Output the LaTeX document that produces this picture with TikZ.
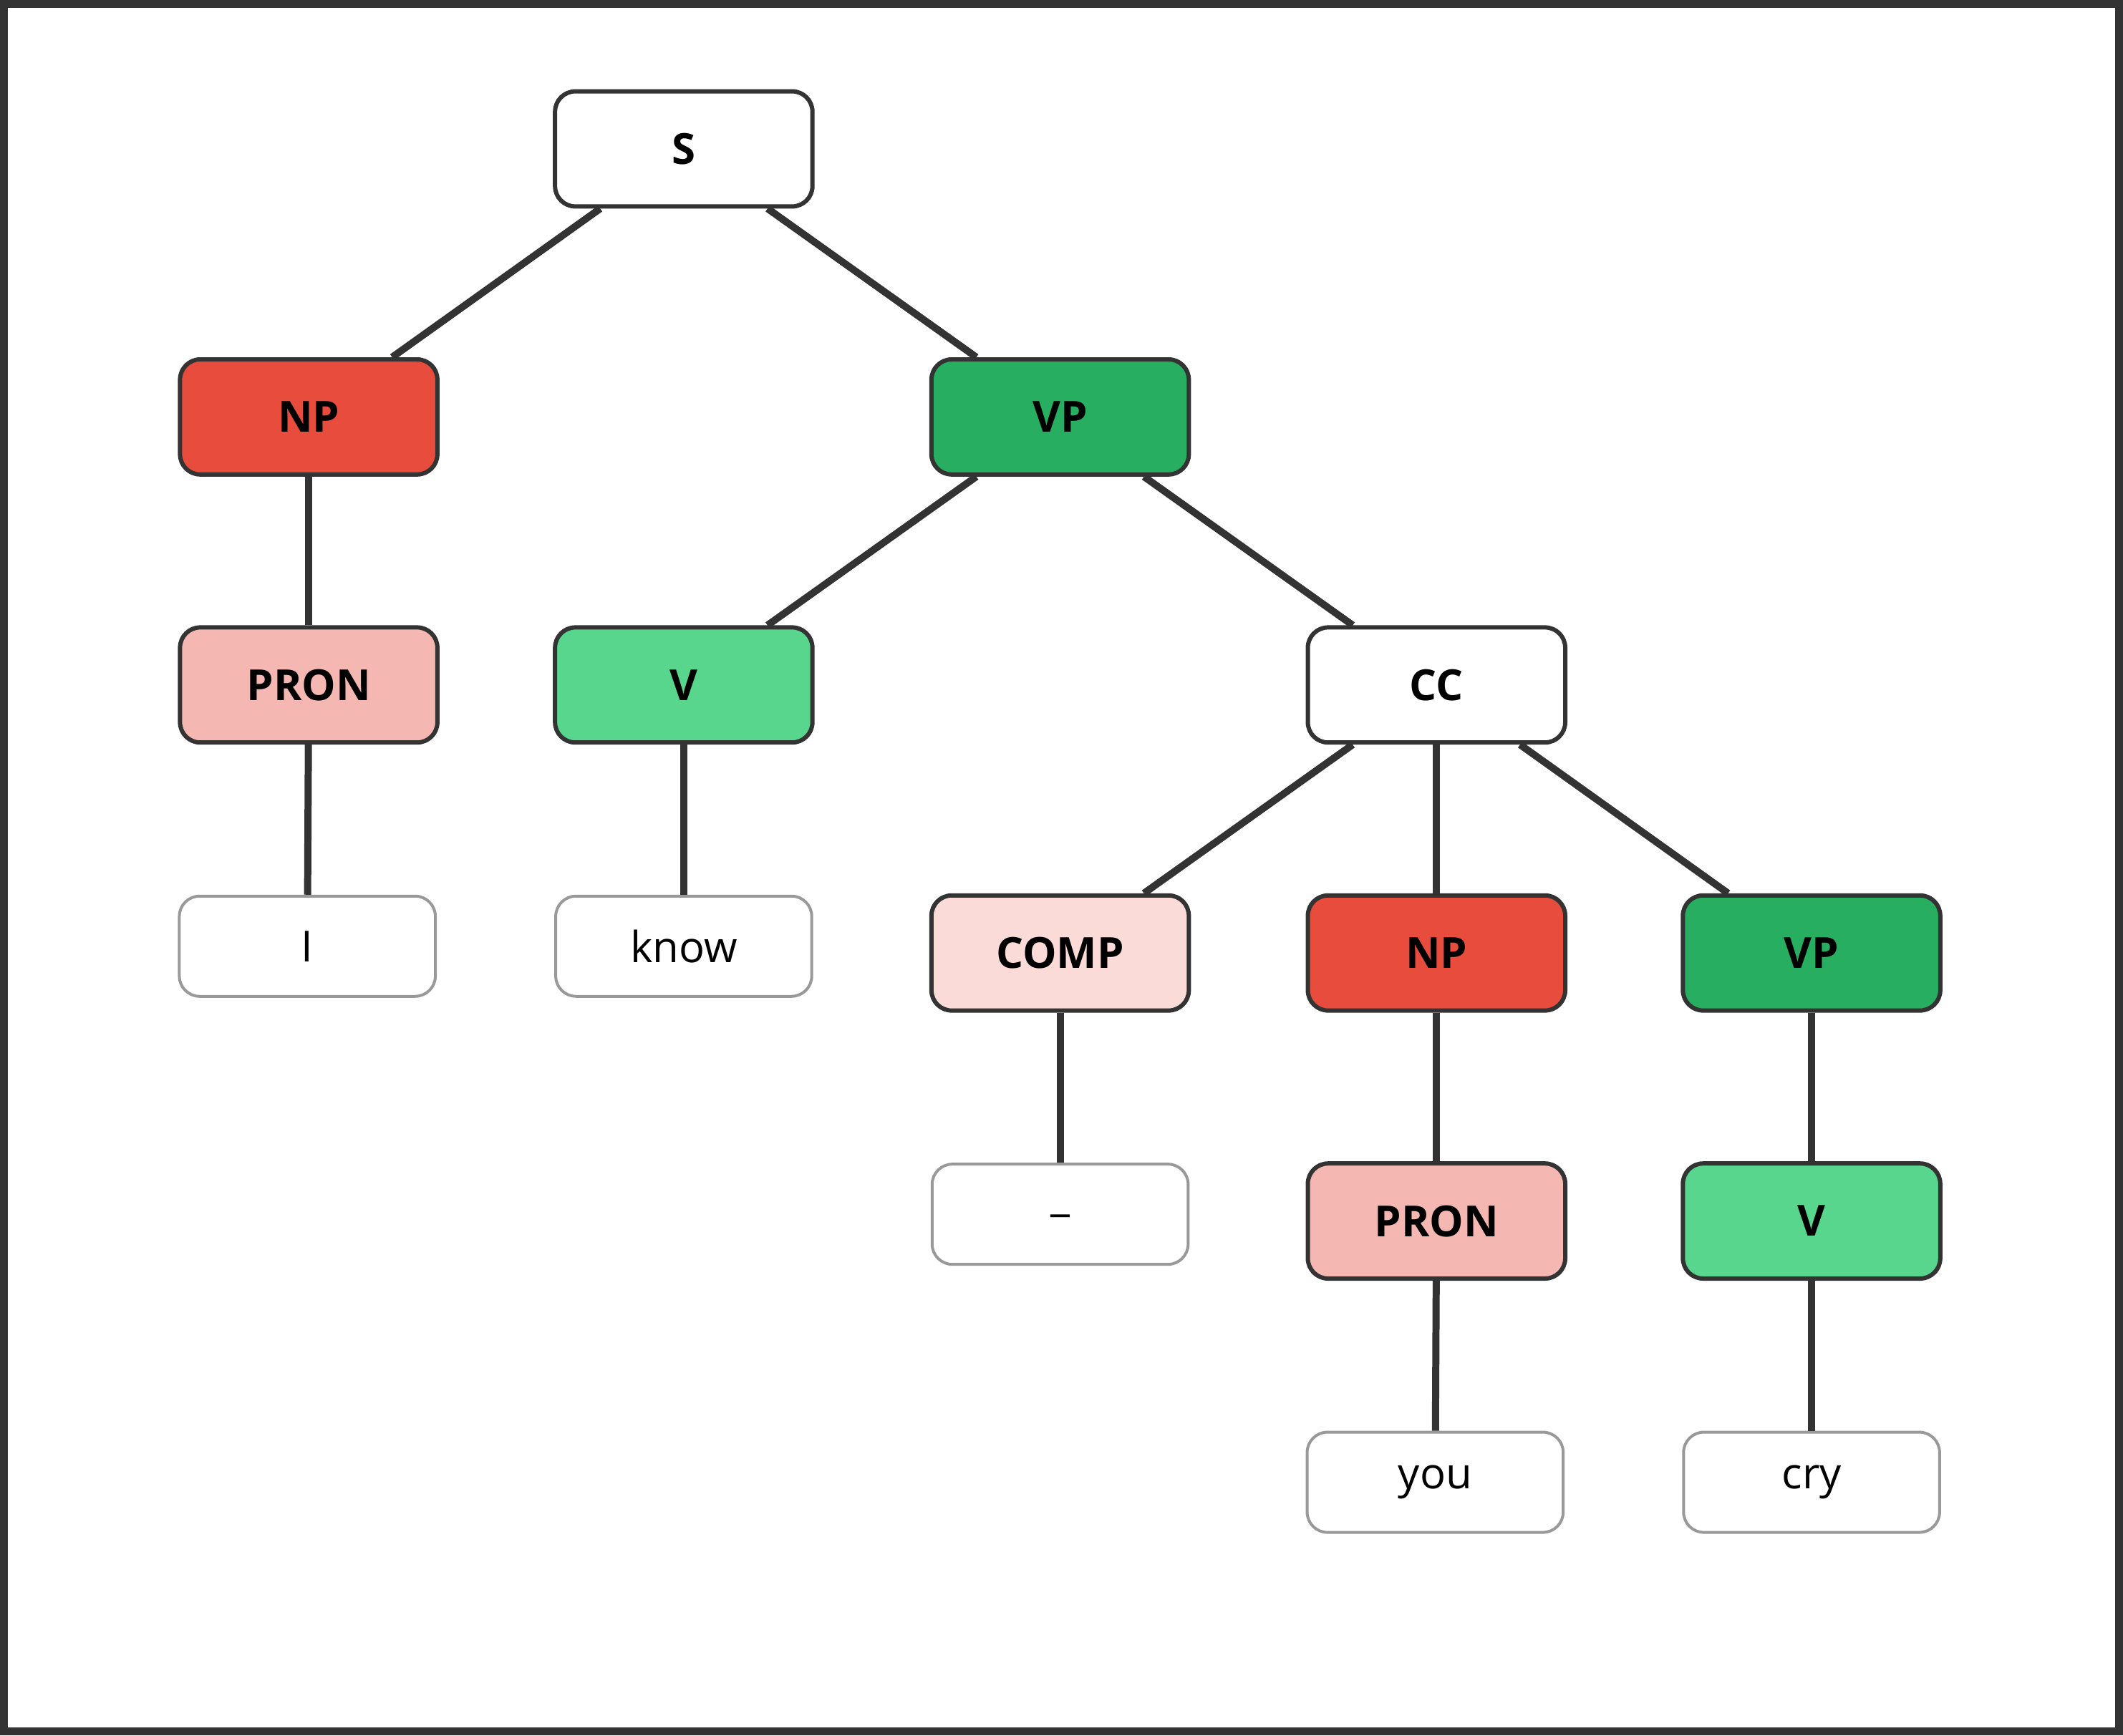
\documentclass[tikz,border=0pt]{standalone}
\usepackage{fontspec}
\setmainfont{Open Sans}
\definecolor{edgegray}{HTML}{333333}
\definecolor{npred}{HTML}{E74C3C}
\definecolor{vpgreen}{HTML}{27AE60}
\definecolor{vgreen}{HTML}{58D68D}
\definecolor{pronpink}{HTML}{F5B7B1}
\definecolor{comppink}{HTML}{FADBD8}
\begin{document}
\begin{tikzpicture}[x=0.01cm,y=-0.01cm,
	cat/.style={rounded corners=1.5mm,draw=edgegray,line width=0.9pt,minimum width=1.9cm,minimum height=0.85cm,font=\fontsize{9}{11}\selectfont\bfseries},
	word/.style={rounded corners=1.5mm,draw=gray!80,line width=0.6pt,fill=white,minimum width=1.89cm,minimum height=0.74cm,font=\fontsize{9}{11}\selectfont},
	branch/.style={draw=edgegray,line width=1.5pt}]

	\draw[edgegray,line width=1.7pt] (3,3) rectangle (1565,1279);

	\node[cat,fill=white] (s) at (505,110) {S};
	\node[cat,fill=npred] (np) at (228,308) {NP};
	\node[cat,fill=vpgreen] (vp) at (783,308) {VP};
	\node[cat,fill=pronpink] (pron) at (228,506) {PRON};
	\node[cat,fill=vgreen] (v) at (505,506) {V};
	\node[cat,fill=white] (cc) at (1061,506) {CC};
	\node[word] (i) at (227,699) {I};
	\node[word] (know) at (505,699) {know};
	\node[cat,fill=comppink] (comp) at (783,704) {COMP};
	\node[cat,fill=npred] (np2) at (1061,704) {NP};
	\node[cat,fill=vpgreen] (vp2) at (1338,704) {VP};
	\node[word] (blank) at (783,897) {\_};
	\node[cat,fill=pronpink] (pron2) at (1061,902) {PRON};
	\node[cat,fill=vgreen] (v2) at (1338,902) {V};
	\node[word] (you) at (1060,1095) {you};
	\node[word] (cry) at (1338,1095) {cry};

	\path[branch] (s) -- (np);
	\path[branch] (s) -- (vp);
	\path[branch] (np) -- (pron);
	\path[branch] (pron) -- (i);
	\path[branch] (vp) -- (v);
	\path[branch] (vp) -- (cc);
	\path[branch] (v) -- (know);
	\path[branch] (cc) -- (comp);
	\path[branch] (cc) -- (np2);
	\path[branch] (cc) -- (vp2);
	\path[branch] (comp) -- (blank);
	\path[branch] (np2) -- (pron2);
	\path[branch] (pron2) -- (you);
	\path[branch] (vp2) -- (v2);
	\path[branch] (v2) -- (cry);

	\useasboundingbox (0,0) rectangle (1568,1282);
\end{tikzpicture}
\end{document}
